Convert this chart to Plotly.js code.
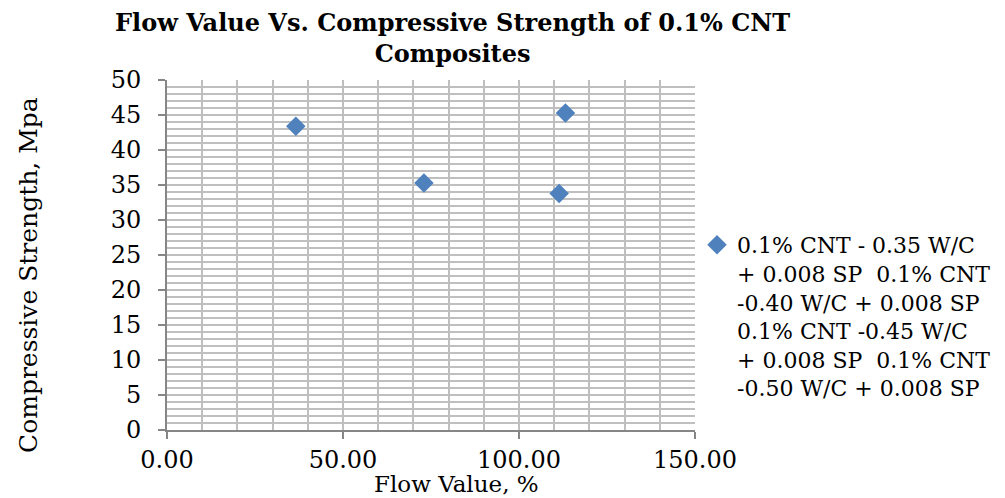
<!DOCTYPE html>
<html>
<head>
<meta charset="utf-8">
<script src="https://cdn.plot.ly/plotly-3.0.1.min.js"></script>
<style>html,body{margin:0;padding:0;background:#fff;}#chart{width:1005px;height:498px;}</style>
</head>
<body>
<div id="chart"></div>
<script>
const flowValue = [36.6, 73.0, 113.2, 111.4];
const compressiveStrength = [43.4, 35.3, 45.3, 33.8];
const seriesName = "0.1% CNT - 0.35 W/C<br>+ 0.008 SP  0.1% CNT<br>-0.40 W/C + 0.008 SP<br>0.1% CNT -0.45 W/C<br>+ 0.008 SP  0.1% CNT<br>-0.50 W/C + 0.008 SP";
const xTickVals = [0, 50, 100, 150];
const xTickText = ["0.00", "50.00", "100.00", "150.00"];
const yTickVals = [0, 5, 10, 15, 20, 25, 30, 35, 40, 45, 50];
const chartTitle = "<b>Flow Value Vs. Compressive Strength of 0.1% CNT<br>Composites</b>";
const xTitle = "Flow Value, %";
const yTitle = "Compressive Strength, Mpa";

const serif = "DejaVu Serif, serif";
const gridColor = "#BFBFBF";
const axisColor = "#868686";

const data = [{
  type: "scatter",
  mode: "markers",
  x: flowValue,
  y: compressiveStrength,
  name: seriesName,
  showlegend: true,
  marker: {symbol: "diamond", size: 15, color: "#4F81BD", line: {width: 0}}
}];

const layout = {
  width: 1005, height: 498,
  margin: {l: 167, r: 310, t: 80, b: 68, autoexpand: false},
  paper_bgcolor: "#fff", plot_bgcolor: "#fff",
  xaxis: {
    range: [0, 150],
    tickvals: xTickVals, ticktext: xTickText,
    ticks: "outside", ticklen: 7, tickcolor: axisColor, tickwidth: 2,
    ticklabelstandoff: 0,
    showline: true, linecolor: axisColor, linewidth: 2,
    showgrid: true, gridcolor: gridColor, gridwidth: 2,
    minor: {dtick: 10, showgrid: true, gridcolor: gridColor, gridwidth: 2},
    zeroline: false,
    tickfont: {family: serif, size: 24, color: "#000"}
  },
  yaxis: {
    range: [0, 50],
    tickvals: yTickVals,
    ticks: "outside", ticklen: 7, tickcolor: axisColor, tickwidth: 2,
    ticklabelstandoff: 12,
    showline: true, linecolor: axisColor, linewidth: 2,
    showgrid: true, gridcolor: gridColor, gridwidth: 2,
    minor: {dtick: 1, showgrid: true, gridcolor: gridColor, gridwidth: 2},
    zeroline: false,
    tickfont: {family: serif, size: 24, color: "#000"}
  },
  annotations: [
    {text: chartTitle, xref: "paper", yref: "paper", x: (452 - 167) / 528, y: (430 - 6) / 350,
     xanchor: "center", yanchor: "top", showarrow: false,
     font: {family: serif, size: 24, color: "#000"}},
    {text: xTitle, xref: "paper", yref: "paper", x: (456 - 167) / 528, y: (430 - 484) / 350,
     xanchor: "center", yanchor: "middle", showarrow: false,
     font: {family: serif, size: 23, color: "#000"}},
    {text: yTitle, xref: "paper", yref: "paper", x: (28 - 167) / 528, y: (430 - 275) / 350,
     xanchor: "center", yanchor: "middle", showarrow: false, textangle: -90,
     font: {family: serif, size: 25, color: "#000"}}
  ],
  showlegend: true,
  legend: {
    x: (697 - 167) / 528, xanchor: "left", y: (430 - 224) / 350, yanchor: "top",
    valign: "top",
    font: {family: serif, size: 22, color: "#000"},
    bgcolor: "rgba(0,0,0,0)", itemwidth: 30, tracegroupgap: 0
  }
};

Plotly.newPlot("chart", data, layout, {displayModeBar: false, staticPlot: true});
</script>
</body>
</html>
